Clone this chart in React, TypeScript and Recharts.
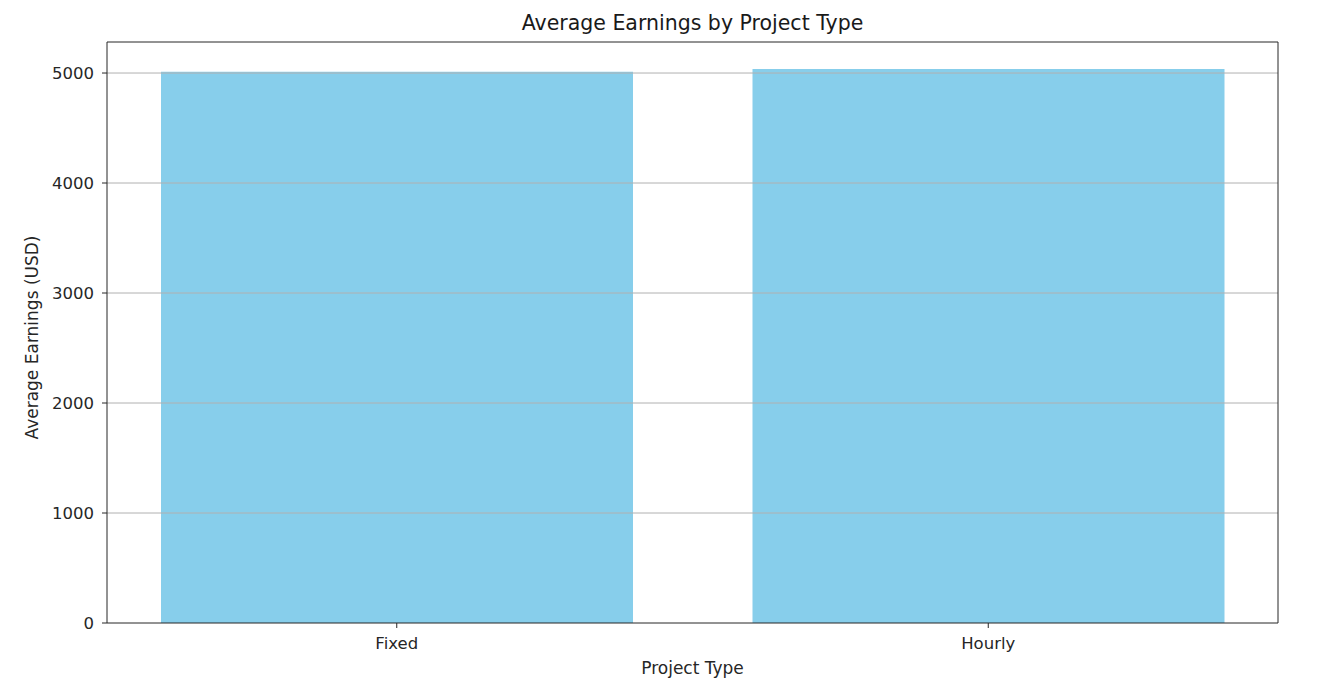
import { BarChart, Bar, XAxis, YAxis, ReferenceLine } from 'recharts';

const projectTypes = ['Fixed', 'Hourly'];
const avgEarnings = [5012, 5036];
const yTicks = [0, 1000, 2000, 3000, 4000, 5000];

const data = projectTypes.map((t, i) => ({ type: t, earnings: avgEarnings[i] }));

const font = 'DejaVu Sans, sans-serif';
const tickStyle = { fill: '#262626', fontSize: 16.5, fontFamily: font };

export default function App() {
  return (
    <div style={{ position: 'absolute', left: 0, top: 0, width: 1326, height: 699, background: '#fff' }}>
      <BarChart
        width={1326}
        height={699}
        data={data}
        margin={{ top: 41, right: 47, left: 47, bottom: 46 }}
        barSize={472}
      >
        <text x={692.5} y={30} textAnchor="middle" fontSize={20.5} fontFamily={font} fill="#1a1a1a">
          Average Earnings by Project Type
        </text>
        <XAxis
          dataKey="type"
          tick={tickStyle}
          tickSize={5}
          tickMargin={9}
          height={30}
          padding={{ left: -6, right: -6 }}
          stroke="#262626"
          axisLine={{ stroke: '#262626' }}
          label={{ value: 'Project Type', position: 'insideBottom', offset: -21, fontSize: 17, fontFamily: font, fill: '#262626' }}
        />
        <XAxis xAxisId="top" orientation="top" dataKey="type" tick={false} tickLine={false} height={1} stroke="#262626" />
        <YAxis
          domain={[0, 5282]}
          ticks={yTicks}
          tick={tickStyle}
          tickSize={5}
          tickMargin={8}
          width={60}
          stroke="#262626"
          allowDataOverflow
          label={{ value: 'Average Earnings (USD)', angle: -90, position: 'insideLeft', offset: -15, dy: 5, style: { textAnchor: 'middle' }, fontSize: 17, fontFamily: font, fill: '#262626' }}
        />
        <YAxis yAxisId="right" orientation="right" tick={false} tickLine={false} width={1} stroke="#262626" />
        <Bar dataKey="earnings" fill="#87CEEB" isAnimationActive={false} />
        {yTicks.slice(1).map((v) => (
          <ReferenceLine key={v} y={v} stroke="#b0b0b0" strokeWidth={1} />
        ))}
      </BarChart>
    </div>
  );
}
